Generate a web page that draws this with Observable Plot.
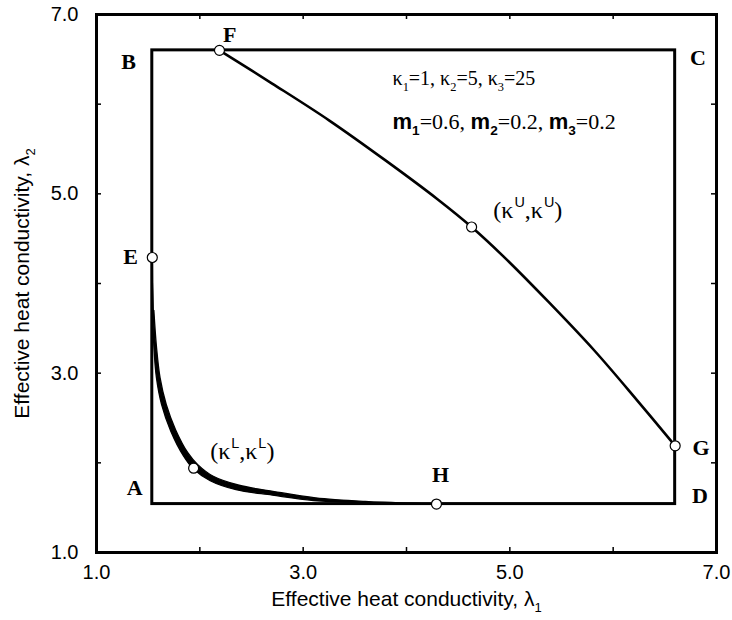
<!DOCTYPE html>
<html><head><meta charset="utf-8">
<script src="https://cdn.jsdelivr.net/npm/d3@7"></script>
<script src="https://cdn.jsdelivr.net/npm/@observablehq/plot@0.6"></script>
<style>body{margin:0;background:#fff}#chart{width:732px;height:620px}</style>
</head><body><div id="chart"></div>
<script>
// ---- data ----
const boundLo = 1.54, boundHi = 6.60;
const labelTicks = [1, 3, 5, 7];
const minorTicks = [2, 3, 4, 5, 6];

const upperX = [2.19, 2.70, 3.25, 3.80, 4.30, 4.63, 4.94, 5.37, 5.82, 6.23, 6.60];
const upperY = [6.60, 6.23, 5.82, 5.37, 4.94, 4.63, 4.30, 3.80, 3.25, 2.70, 2.19];

const lowerOuterX = [1.54, 1.545, 1.555, 1.58, 1.63, 1.72, 1.84, 1.94, 2.10, 2.35, 2.70, 3.10, 3.60, 4.29];
const lowerOuterY = [4.29, 3.70, 3.30, 2.95, 2.65, 2.35, 2.08, 1.93, 1.80, 1.70, 1.64, 1.58, 1.555, 1.54];
const lowerInnerX = [1.54, 1.555, 1.58, 1.615, 1.675, 1.765, 1.885, 1.98, 2.13, 2.38, 2.72, 3.12, 3.60, 4.29];
const lowerInnerY = [4.29, 3.70, 3.30, 2.95, 2.65, 2.37, 2.11, 1.98, 1.85, 1.75, 1.68, 1.61, 1.57, 1.54];

const pointX = [1.54, 2.19, 6.60, 4.29, 4.63, 1.94];
const pointY = [4.29, 6.60, 2.19, 1.54, 4.63, 1.94];

const letterNames = ["A", "B", "C", "D", "E", "F", "G", "H"];
const letterX = [1.37, 1.31, 6.82, 6.84, 1.33, 2.29, 6.85, 4.33];
const letterY = [1.72, 6.47, 6.51, 1.63, 4.30, 6.77, 2.17, 1.86];

const kappaText = "κ_{1}=1, κ_{2}=5, κ_{3}=25";
const massText = "**m_{1}**=0.6, **m_{2}**=0.2, **m_{3}**=0.2";
const noteX = [3.865, 3.865];
const noteY = [6.28, 5.80];

const pairText = ["(κ^{U},κ^{U})", "(κ^{L},κ^{L})"];
const pairX = [4.84, 2.10];
const pairY = [4.82, 2.13];

const xTitle = "Effective heat conductivity, λ_{1}";
const yTitle = "Effective heat conductivity, λ_{2}";

// ---- build ----
const W = 732, H = 620, mL = 96, mR = 16, mT = 14, mB = 68;
const frameW = W - mL - mR, frameH = H - mT - mB, tickLen = 5;

const upper = upperX.map((x, i) => ({x, y: upperY[i]}));
const outer = lowerOuterX.map((x, i) => ({x, y: lowerOuterY[i]}));
const inner = lowerInnerX.map((x, i) => ({x, y: lowerInnerY[i]}));
const band = outer.concat(inner.slice(1, -1).reverse());
const points = pointX.map((x, i) => ({x, y: pointY[i]}));
const letters = letterNames.map((t, i) => ({t, x: letterX[i], y: letterY[i]}));
const pairs = pairText.map((t, i) => ({t, x: pairX[i], y: pairY[i]}));

const serif = "Liberation Serif, Times New Roman, serif";
const sans = "Liberation Sans, Arial, Helvetica, sans-serif";

const chart = Plot.plot({
  width: W, height: H,
  marginLeft: mL, marginRight: mR, marginTop: mT, marginBottom: mB,
  style: {fontFamily: sans, background: "#fff", color: "#000", overflow: "visible"},
  x: {domain: [1, 7]},
  y: {domain: [1, 7]},
  marks: [
    Plot.axisX(labelTicks, {anchor: "bottom", tickSize: 0, tickPadding: 12, tickFormat: d3.format(".1f"), fontSize: 20, fontFamily: sans}),
    Plot.axisY(labelTicks, {anchor: "left", tickSize: 0, tickPadding: 18, tickFormat: d3.format(".1f"), fontSize: 20, fontFamily: sans}),
    Plot.tickX(minorTicks, {x: d => d, insetTop: frameH - tickLen, strokeWidth: 1.5}),
    Plot.tickX(minorTicks, {x: d => d, insetBottom: frameH - tickLen, strokeWidth: 1.5}),
    Plot.tickY(minorTicks, {y: d => d, insetRight: frameW - tickLen, strokeWidth: 1.5}),
    Plot.tickY(minorTicks, {y: d => d, insetLeft: frameW - tickLen, strokeWidth: 1.5}),
    Plot.frame({stroke: "#000", strokeWidth: 3}),
    Plot.rect([{x1: boundLo, x2: boundHi, y1: boundLo, y2: boundHi}], {x1: "x1", x2: "x2", y1: "y1", y2: "y2", fill: "none", stroke: "#000", strokeWidth: 3}),
    Plot.line(upper, {x: "x", y: "y", curve: "catmull-rom", stroke: "#000", strokeWidth: 2.6}),
    Plot.line(band, {x: "x", y: "y", curve: "catmull-rom", fill: "#000", stroke: "#000", strokeWidth: 1.3}),
    Plot.dot(points, {x: "x", y: "y", r: 5, fill: "#fff", stroke: "#000", strokeWidth: 1.2}),
    Plot.text(letters, {x: "x", y: "y", text: "t", fontFamily: serif, fontWeight: "bold", fontSize: 22}),
    Plot.text([kappaText], {x: noteX[0], y: noteY[0], text: d => d, textAnchor: "start", fontFamily: serif, fontSize: 20}),
    Plot.text([massText], {x: noteX[1], y: noteY[1], text: d => d, textAnchor: "start", fontFamily: serif, fontSize: 22}),
    Plot.text(pairs, {x: "x", y: "y", text: "t", textAnchor: "start", fontFamily: serif, fontSize: 24}),
    Plot.text([xTitle], {text: d => d, frameAnchor: "bottom", textAnchor: "middle", lineAnchor: "middle", dy: 47, fontSize: 21, fontFamily: sans}),
    Plot.text([yTitle], {text: d => d, frameAnchor: "left", textAnchor: "middle", lineAnchor: "middle", dx: -74, rotate: -90, fontSize: 21, fontFamily: sans})
  ]
});
document.getElementById("chart").appendChild(chart);

// rich text: _{sub}, ^{sup}, **bold sans**
function richify(el) {
  const s = el.textContent;
  if (!/[_^]\{|\*\*/.test(s)) return;
  const size = parseFloat(getComputedStyle(el).fontSize) || 20;
  const segs = [];
  let bold = false, buf = "", i = 0;
  const flush = () => { if (buf) segs.push({t: buf, bold, shift: 0}); buf = ""; };
  while (i < s.length) {
    if (s.startsWith("**", i)) { flush(); bold = !bold; i += 2; continue; }
    if ((s[i] === "_" || s[i] === "^") && s[i + 1] === "{") {
      flush();
      const j = s.indexOf("}", i);
      segs.push({t: s.slice(i + 2, j), bold, shift: s[i] === "_" ? 1 : -1});
      i = j + 1; continue;
    }
    buf += s[i]; i++;
  }
  flush();
  el.textContent = "";
  let cur = 0;
  for (const seg of segs) {
    const ts = document.createElementNS("http://www.w3.org/2000/svg", "tspan");
    ts.textContent = seg.t;
    const target = seg.shift > 0 ? size * 0.28 : seg.shift < 0 ? -size * 0.45 : 0;
    const dy = target - cur;
    if (dy) ts.setAttribute("dy", dy);
    cur = target;
    if (seg.shift) ts.setAttribute("font-size", size * (seg.shift < 0 ? 0.6 : 0.62));
    if (seg.shift < 0) { ts.setAttribute("font-family", sans); ts.setAttribute("dx", 1); }
    if (seg.bold) { ts.setAttribute("font-family", sans); ts.setAttribute("font-weight", "bold"); }
    el.appendChild(ts);
  }
}
chart.querySelectorAll("text").forEach(richify);
</script>
</body></html>
